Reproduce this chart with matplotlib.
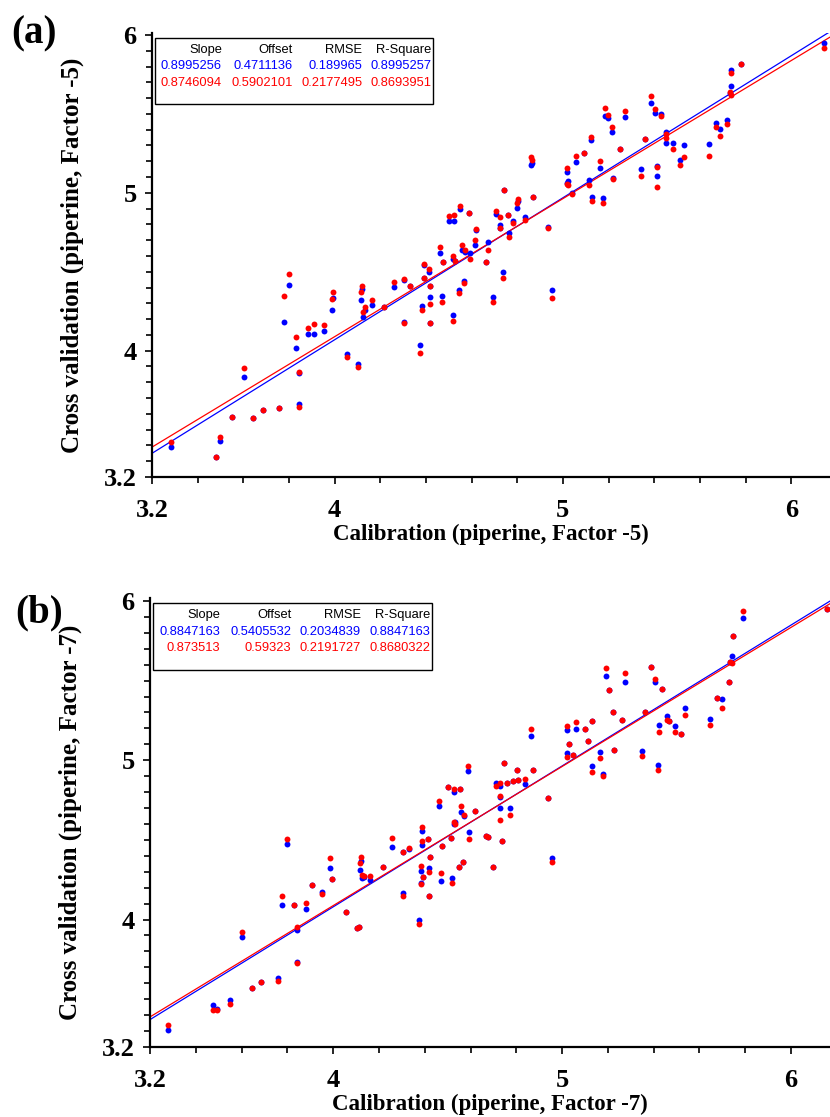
import matplotlib
matplotlib.use("Agg")
import matplotlib.pyplot as plt
from matplotlib.patches import Rectangle
from matplotlib.ticker import FixedLocator, MultipleLocator
import numpy

##### DATA #####
# panel (a), Factor -5
cal_a = [3.283, 3.479, 3.498, 3.552, 3.604, 3.642, 3.687, 3.758, 3.779, 3.800,
         3.831, 3.845, 3.846, 3.883, 3.910, 3.952, 3.988, 3.994, 4.056, 4.104,
         4.117, 4.119, 4.125, 4.131, 4.162, 4.215, 4.258, 4.302, 4.302, 4.331,
         4.373, 4.383, 4.392, 4.392, 4.417, 4.417, 4.412, 4.419, 4.460, 4.473,
         4.469, 4.502, 4.521, 4.517, 4.517, 4.527, 4.550, 4.556, 4.546, 4.565,
         4.569, 4.588, 4.594, 4.613, 4.619, 4.662, 4.671, 4.694, 4.706, 4.725,
         4.723, 4.737, 4.744, 4.758, 4.763, 4.781, 4.798, 4.802, 4.833, 4.860,
         4.864, 4.868, 4.935, 4.954, 5.017, 5.017, 5.021, 5.040, 5.056, 5.094,
         5.113, 5.125, 5.129, 5.162, 5.175, 5.183, 5.196, 5.213, 5.219, 5.252,
         5.271, 5.344, 5.358, 5.387, 5.402, 5.413, 5.413, 5.431, 5.450, 5.452,
         5.483, 5.513, 5.529, 5.642, 5.671, 5.690, 5.719, 5.733, 5.738, 5.738,
         5.781, 6.142]
cv_blue_a = [3.392, 3.328, 3.430, 3.578, 3.836, 3.575, 3.624, 3.640, 4.181, 4.414,
             4.016, 3.662, 3.860, 4.103, 4.107, 4.122, 4.260, 4.333, 3.980, 3.916,
             4.319, 4.390, 4.213, 4.260, 4.287, 4.275, 4.403, 4.180, 4.446, 4.407,
             4.033, 4.280, 4.540, 4.460, 4.340, 4.177, 4.500, 4.410, 4.619, 4.562,
             4.344, 4.820, 4.820, 4.227, 4.580, 4.570, 4.900, 4.640, 4.382, 4.440,
             4.625, 4.875, 4.620, 4.670, 4.765, 4.562, 4.689, 4.340, 4.869, 4.795,
             4.776, 4.500, 5.020, 4.860, 4.746, 4.820, 4.905, 4.950, 4.845, 5.176,
             5.190, 4.975, 4.785, 4.386, 5.133, 5.060, 5.074, 5.000, 5.197, 5.250,
             5.080, 5.334, 4.975, 5.155, 4.968, 5.487, 5.472, 5.387, 5.095, 5.280,
             5.480, 5.150, 5.340, 5.567, 5.508, 5.170, 5.106, 5.500, 5.385, 5.317,
             5.317, 5.207, 5.300, 5.310, 5.444, 5.402, 5.461, 5.630, 5.779, 5.679,
             5.815, 5.952]
cv_red_a = [3.419, 3.328, 3.450, 3.578, 3.889, 3.575, 3.624, 3.640, 4.348, 4.484,
            4.086, 3.641, 3.868, 4.145, 4.166, 4.160, 4.330, 4.371, 3.963, 3.895,
            4.371, 4.407, 4.244, 4.276, 4.323, 4.275, 4.435, 4.175, 4.456, 4.410,
            3.986, 4.260, 4.550, 4.460, 4.297, 4.177, 4.520, 4.410, 4.657, 4.562,
            4.308, 4.854, 4.862, 4.190, 4.600, 4.570, 4.915, 4.670, 4.365, 4.430,
            4.636, 4.875, 4.580, 4.700, 4.770, 4.562, 4.640, 4.308, 4.884, 4.848,
            4.776, 4.460, 5.020, 4.860, 4.720, 4.810, 4.937, 4.958, 4.830, 5.229,
            5.205, 4.975, 4.775, 4.333, 5.155, 5.055, 5.050, 4.995, 5.235, 5.250,
            5.049, 5.351, 4.947, 5.203, 4.937, 5.535, 5.493, 5.419, 5.085, 5.280,
            5.520, 5.106, 5.340, 5.614, 5.529, 5.165, 5.038, 5.490, 5.370, 5.345,
            5.280, 5.176, 5.229, 5.235, 5.415, 5.362, 5.436, 5.640, 5.758, 5.620,
            5.815, 5.916]

# panel (b), Factor -7
cal_b = [3.277, 3.476, 3.494, 3.550, 3.600, 3.644, 3.683, 3.757, 3.776, 3.799,
         3.830, 3.843, 3.843, 3.882, 3.909, 3.950, 3.986, 3.996, 4.056, 4.102,
         4.114, 4.118, 4.122, 4.128, 4.134, 4.162, 4.218, 4.259, 4.305, 4.307,
         4.332, 4.375, 4.383, 4.383, 4.390, 4.390, 4.392, 4.413, 4.419, 4.419,
         4.425, 4.462, 4.472, 4.475, 4.502, 4.516, 4.520, 4.526, 4.526, 4.533,
         4.549, 4.553, 4.559, 4.568, 4.572, 4.591, 4.595, 4.620, 4.669, 4.678,
         4.698, 4.711, 4.727, 4.727, 4.730, 4.738, 4.746, 4.761, 4.771, 4.785,
         4.804, 4.808, 4.839, 4.862, 4.871, 4.939, 4.958, 5.020, 5.020, 5.028,
         5.047, 5.061, 5.098, 5.115, 5.129, 5.132, 5.165, 5.179, 5.190, 5.204,
         5.221, 5.225, 5.260, 5.275, 5.349, 5.364, 5.389, 5.406, 5.418, 5.422,
         5.438, 5.457, 5.465, 5.492, 5.519, 5.538, 5.648, 5.677, 5.699, 5.728,
         5.732, 5.743, 5.747, 5.789, 6.157]
cv_blue_b = [3.309, 3.462, 3.440, 3.494, 3.892, 3.571, 3.609, 3.630, 4.089, 4.475,
             4.090, 3.934, 3.735, 4.064, 4.215, 4.175, 4.326, 4.253, 4.047, 3.945,
             3.950, 4.312, 4.370, 4.260, 4.270, 4.249, 4.328, 4.458, 4.427, 4.169,
             4.440, 3.997, 4.305, 4.230, 4.557, 4.469, 4.270, 4.508, 4.326, 4.150,
             4.392, 4.714, 4.244, 4.463, 4.830, 4.510, 4.260, 4.798, 4.600, 4.610,
             4.330, 4.818, 4.674, 4.360, 4.650, 4.930, 4.549, 4.679, 4.525, 4.520,
             4.330, 4.857, 4.840, 4.700, 4.770, 4.490, 4.980, 4.857, 4.700, 4.867,
             4.940, 4.878, 4.850, 5.155, 4.940, 4.763, 4.385, 5.192, 5.046, 5.104,
             5.030, 5.196, 5.196, 5.123, 5.245, 4.966, 5.050, 4.916, 5.532, 5.444,
             5.306, 5.064, 5.254, 5.490, 5.060, 5.301, 5.586, 5.490, 4.968, 5.224,
             5.446, 5.280, 5.245, 5.213, 5.165, 5.325, 5.260, 5.390, 5.385, 5.493,
             5.616, 5.654, 5.780, 5.895, 5.948]
cv_red_b = [3.336, 3.435, 3.435, 3.468, 3.919, 3.571, 3.609, 3.613, 4.148, 4.505,
            4.090, 3.955, 3.730, 4.102, 4.215, 4.160, 4.385, 4.253, 4.047, 3.945,
            3.950, 4.358, 4.390, 4.280, 4.274, 4.274, 4.328, 4.511, 4.427, 4.148,
            4.448, 3.970, 4.333, 4.224, 4.580, 4.490, 4.270, 4.508, 4.301, 4.148,
            4.392, 4.746, 4.290, 4.463, 4.830, 4.510, 4.228, 4.819, 4.610, 4.600,
            4.330, 4.818, 4.714, 4.360, 4.658, 4.962, 4.505, 4.679, 4.525, 4.520,
            4.330, 4.836, 4.860, 4.626, 4.773, 4.490, 4.983, 4.857, 4.658, 4.867,
            4.940, 4.878, 4.882, 5.197, 4.940, 4.763, 4.364, 5.213, 5.020, 5.104,
            5.030, 5.241, 5.196, 5.123, 5.245, 4.924, 5.014, 4.899, 5.576, 5.444,
            5.306, 5.064, 5.254, 5.549, 5.025, 5.301, 5.586, 5.511, 4.937, 5.176,
            5.446, 5.255, 5.245, 5.176, 5.165, 5.287, 5.224, 5.390, 5.329, 5.493,
            5.616, 5.608, 5.780, 5.937, 5.948]

# statistics tables
headers = ["Slope", "Offset", "RMSE", "R-Square"]
stats_blue_a = ["0.8995256", "0.4711136", "0.189965", "0.8995257"]
stats_red_a = ["0.8746094", "0.5902101", "0.2177495", "0.8693951"]
stats_blue_b = ["0.8847163", "0.5405532", "0.2034839", "0.8847163"]
stats_red_b = ["0.873513", "0.59323", "0.2191727", "0.8680322"]

BLUE = "#0000ff"
RED = "#ff0000"
SERIF = "Liberation Serif"
SANS = "Liberation Sans"


def draw_panel(ax, cal, cv_blue, cv_red, s_blue, s_red, factor, ylim):
    ax.set_xlim(3.2, 6.17)
    ax.set_ylim(3.2, ylim)

    # regression lines from slope / offset of the table
    xx = numpy.array([3.2, 6.3])
    ax.plot(xx, float(s_blue[0]) * xx + float(s_blue[1]), color=BLUE, lw=0.9, zorder=2)
    ax.plot(xx, float(s_red[0]) * xx + float(s_red[1]), color=RED, lw=0.9, zorder=2)

    ax.scatter(cal, cv_blue, s=18, color=BLUE, linewidths=0, zorder=3, clip_on=False)
    ax.scatter(cal, cv_red, s=18, color=RED, linewidths=0, zorder=4, clip_on=False)

    # axes look
    for side in ["top", "right"]:
        ax.spines[side].set_visible(False)
    for side in ["left", "bottom"]:
        ax.spines[side].set_linewidth(1.6)
    ax.xaxis.set_major_locator(FixedLocator([3.2, 4, 5, 6]))
    ax.xaxis.set_minor_locator(FixedLocator(numpy.arange(3.2, 6.21, 0.2)))
    ax.yaxis.set_major_locator(FixedLocator([3.2, 4, 5, 6]))
    ax.yaxis.set_minor_locator(MultipleLocator(0.1))
    ax.set_xticklabels(["3.2", "4", "5", "6"])
    ax.set_yticklabels(["3.2", "4", "5", "6"])
    ax.tick_params(which="both", direction="out", width=1.2, colors="black")
    ax.tick_params(which="major", length=5)
    ax.tick_params(which="minor", length=4)
    ax.tick_params(axis="x", which="major", pad=11)
    ax.tick_params(axis="y", which="major", pad=6)
    for lab in ax.get_xticklabels() + ax.get_yticklabels():
        lab.set_fontfamily(SERIF)
        lab.set_fontweight("bold")
        lab.set_fontsize(19)

    ax.set_xlabel("Calibration (piperine, Factor -%d)" % factor,
                  fontfamily=SERIF, fontweight="bold", fontsize=16.5, labelpad=1)
    ax.set_ylabel("Cross validation (piperine, Factor -%d)" % factor,
                  fontfamily=SERIF, fontweight="bold", fontsize=18, labelpad=14)

    # statistics box (axes fraction coords)
    ax.add_patch(Rectangle((0.004, 0.84), 0.41, 0.148, transform=ax.transAxes,
                           facecolor="white", edgecolor="black", lw=1.0, zorder=5))
    col_right = [0.103, 0.208, 0.310, 0.412]
    rows = [(headers, "black", 0.962), (s_blue, BLUE, 0.925), (s_red, RED, 0.888)]
    for values, col, yy in rows:
        for xr, v in zip(col_right, values):
            ax.text(xr, yy, v, transform=ax.transAxes, ha="right", va="center",
                    fontfamily=SANS, fontsize=9.3, color=col, zorder=6)


figure = plt.figure(figsize=(8.3, 11.17), dpi=100)
ax_a = figure.add_axes([0.1831, 0.5730, 0.8169, 0.3975])
ax_b = figure.add_axes([0.1807, 0.0627, 0.8193, 0.4020])

draw_panel(ax_a, cal_a, cv_blue_a, cv_red_a, stats_blue_a, stats_red_a, 5, 6.013)
draw_panel(ax_b, cal_b, cv_blue_b, cv_red_b, stats_blue_b, stats_red_b, 7, 6.019)

figure.text(0.014, 0.970, "(a)", fontfamily=SERIF, fontweight="bold", fontsize=28,
            ha="left", va="center")
figure.text(0.018, 0.451, "(b)", fontfamily=SERIF, fontweight="bold", fontsize=28,
            ha="left", va="center")

figure.savefig("out.png", dpi=100)
